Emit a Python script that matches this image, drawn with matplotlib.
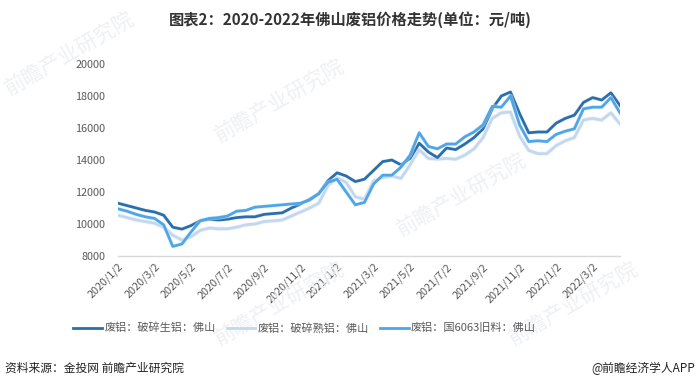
import matplotlib
matplotlib.use("Agg")
import matplotlib.pyplot as plt
import matplotlib.patheffects as pe
from matplotlib.lines import Line2D

plt.rcParams['font.family'] = ['Noto Sans CJK SC', 'DejaVu Sans']

# ---- 数据（半月一个点，2020/1/2 起）----
tick_labels = ["2020/1/2", "2020/3/2", "2020/5/2", "2020/7/2", "2020/9/2", "2020/11/2",
               "2021/1/2", "2021/3/2", "2021/5/2", "2021/7/2", "2021/9/2", "2021/11/2",
               "2022/1/2", "2022/3/2"]

raw_cast = [11300, 11150, 11000, 10850, 10750, 10550, 9800, 9680, 9900, 10200,
            10300, 10250, 10300, 10400, 10450, 10450, 10600, 10650, 10700, 11000,
            11250, 11550, 11900, 12700, 13200, 13000, 12650, 12800, 13350, 13900,
            14000, 13700, 14100, 15050, 14500, 14150, 14750, 14650, 15000, 15400,
            15950, 17200, 18000, 18250, 16900, 15700, 15750, 15750, 16300, 16600,
            16800, 17600, 17900, 17750, 18200, 17400]

raw_wrought = [10550, 10400, 10250, 10150, 10050, 9800, 9300, 9000, 9200, 9600,
               9750, 9700, 9700, 9800, 9950, 10000, 10150, 10200, 10250, 10500,
               10750, 11000, 11300, 12400, 12900, 12600, 11700, 11550, 12700, 12900,
               13000, 12850, 13700, 14650, 14100, 14050, 14100, 14050, 14300, 14700,
               15400, 16600, 16950, 17000, 15500, 14600, 14400, 14400, 14900, 15200,
               15400, 16500, 16600, 16500, 16950, 16250]

old_6063 = [10950, 10800, 10600, 10450, 10350, 9950, 8600, 8750, 9500, 10200,
            10350, 10400, 10500, 10800, 10850, 11050, 11100, 11150, 11200, 11250,
            11300, 11500, 11900, 12600, 12800, 12000, 11200, 11350, 12500, 13050,
            13050, 13550, 14300, 15700, 14850, 14700, 15000, 15000, 15450, 15750,
            16200, 17350, 17300, 18000, 16200, 15150, 15200, 15150, 15600, 15800,
            15950, 17200, 17300, 17300, 17900, 16950]

series_names = ["废铝：破碎生铝：佛山", "废铝：破碎熟铝：佛山", "废铝：国6063旧料：佛山"]
colors = ["#2B6EAC", "#C3D8EF", "#4DA6E8"]

fig = plt.figure(figsize=(7.0, 3.9), dpi=100)

# 淡色水印
for wx, wy in [(0.10, 0.86), (0.40, 0.74), (0.66, 0.50), (0.40, 0.22), (0.82, 0.22)]:
    fig.text(wx, wy, "前瞻产业研究院", fontsize=15, color="#eef0f4", rotation=30,
             ha="center", va="center", zorder=0)

ax = fig.add_axes([118 / 700, 1 - 256 / 390, (620 - 118) / 700, (256 - 64) / 390])
ax.patch.set_alpha(0)

x = list(range(len(raw_cast)))
glow = [pe.Stroke(linewidth=3.2, foreground="#e4ecf5", alpha=0.5), pe.Normal()]
for vals, col, z in zip([raw_cast, raw_wrought, old_6063], colors, [3, 2, 4]):
    ax.plot(x, vals, color=col, lw=2.0, zorder=z, path_effects=glow)

ax.set_xlim(0, len(x) - 1)
ax.set_ylim(8000, 20000)
ax.set_yticks(range(8000, 20001, 2000))
ax.set_xticks(range(0, len(x), 4))
ax.set_xticklabels(tick_labels, rotation=45, ha="right", rotation_mode="anchor")
ax.tick_params(axis="both", length=0, labelsize=7.8, colors="#595959")
ax.tick_params(axis="y", pad=9)
ax.tick_params(axis="x", pad=4)
for s in ["top", "right", "left"]:
    ax.spines[s].set_visible(False)
ax.spines["bottom"].set_color("#d9d9d9")
ax.spines["bottom"].set_linewidth(1.0)

handles = [Line2D([], [], color=c, lw=2.0) for c in colors]
leg = fig.legend(handles, series_names, loc="center", bbox_to_anchor=(0.435, 1 - 328 / 390),
                 ncol=3, frameon=False, fontsize=8, handlelength=2.6, columnspacing=1.0,
                 handletextpad=0.2)
for t in leg.get_texts():
    t.set_color("#595959")

fig.text(0.5, 1 - 20 / 390, "图表2：2020-2022年佛山废铝价格走势(单位：元/吨)",
         ha="center", va="center", fontsize=11, fontweight="bold", color="#333333")
fig.text(5 / 700, 1 - 368 / 390, "资料来源：金投网 前瞻产业研究院",
         ha="left", va="center", fontsize=8.5, color="#222222")
fig.text(695 / 700, 1 - 368 / 390, "@前瞻经济学人APP",
         ha="right", va="center", fontsize=8.5, color="#222222")

fig.savefig("out.png", dpi=100, facecolor="white")
